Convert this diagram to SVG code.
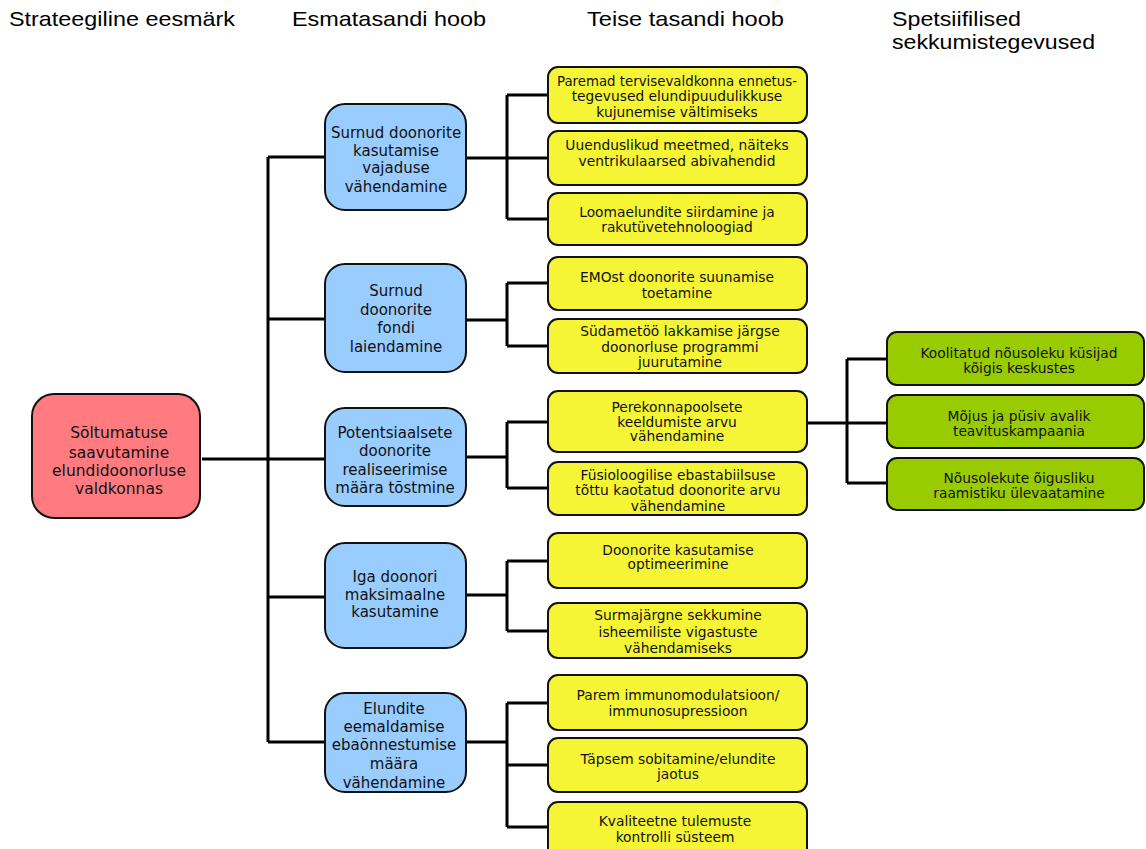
<svg xmlns="http://www.w3.org/2000/svg" width="1146" height="849" viewBox="0 0 1146 849">
  <style>
    .hdr { font-family: "Liberation Sans", Arial, sans-serif; font-size: 21px; fill: #000; }
    .box { stroke: #111; stroke-width: 2; }
    .goal { fill: #ff7b80; }
    .lvl1 { fill: #99ccff; }
    .lvl2 { fill: #f5f536; }
    .act { fill: #99cc00; }
    .tg { font-family: "DejaVu Sans", Verdana, sans-serif; font-size: 15.5px; fill: #111; text-anchor: middle; }
    .t1 { font-family: "DejaVu Sans", Verdana, sans-serif; font-size: 15px; fill: #111; text-anchor: middle; }
    .t2 { font-family: "DejaVu Sans", Verdana, sans-serif; font-size: 13.8px; fill: #111; text-anchor: middle; }
    .wire { fill: none; stroke: #000; stroke-width: 3; }
  </style>

  <!-- column headings -->
  <g id="headings">
    <text class="hdr" x="9" y="26" textLength="226" lengthAdjust="spacingAndGlyphs">Strateegiline eesmärk</text>
    <text class="hdr" x="292" y="26" textLength="194" lengthAdjust="spacingAndGlyphs">Esmatasandi hoob</text>
    <text class="hdr" x="587" y="26" textLength="197" lengthAdjust="spacingAndGlyphs">Teise tasandi hoob</text>
    <text class="hdr" x="892" y="26" textLength="129" lengthAdjust="spacingAndGlyphs">Spetsiifilised</text>
    <text class="hdr" x="892" y="49" textLength="203" lengthAdjust="spacingAndGlyphs">sekkumistegevused</text>
  </g>

  <!-- connectors -->
  <g id="connectors" class="wire">
    <!-- goal to first-level levers -->
    <path d="M202 459 H325"/>
    <path d="M268 157 V742"/>
    <path d="M268 157 H325 M268 319 H325 M268 597 H325 M268 742 H325"/>
    <!-- first to second level -->
    <path d="M466 158 H507 M507 95 V219 M507 95 H548 M507 158 H548 M507 219 H548"/>
    <path d="M466 320 H507 M507 283 V346 M507 283 H548 M507 346 H548"/>
    <path d="M466 457 H507 M507 422 V488 M507 422 H548 M507 488 H548"/>
    <path d="M466 595 H507 M507 561 V631 M507 561 H548 M507 631 H548"/>
    <path d="M466 742 H507 M507 703 V827 M507 703 H548 M507 765 H548 M507 827 H548"/>
    <!-- second level to specific actions -->
    <path d="M807 423 H847 M847 359 V483 M847 359 H887 M847 423 H887 M847 483 H887"/>
  </g>

  <!-- strategic goal -->
  <g id="goal">
    <rect class="box goal" x="32" y="394" width="168" height="124" rx="22"/>
    <text class="tg" x="119" y="438">Sõltumatuse</text>
    <text class="tg" x="119" y="458">saavutamine</text>
    <text class="tg" x="119" y="476">elundidoonorluse</text>
    <text class="tg" x="119" y="494">valdkonnas</text>
  </g>

  <!-- first-level levers -->
  <g id="lever1">
    <rect class="box lvl1" x="325" y="104" width="141" height="106" rx="20"/>
    <text class="t1" x="396" y="138">Surnud doonorite</text>
    <text class="t1" x="396" y="156">kasutamise</text>
    <text class="t1" x="396" y="173">vajaduse</text>
    <text class="t1" x="396" y="192">vähendamine</text>
  </g>
  <g id="lever2">
    <rect class="box lvl1" x="325" y="264" width="141" height="108" rx="20"/>
    <text class="t1" x="396" y="296">Surnud</text>
    <text class="t1" x="396" y="315">doonorite</text>
    <text class="t1" x="396" y="333">fondi</text>
    <text class="t1" x="396" y="352">laiendamine</text>
  </g>
  <g id="lever3">
    <rect class="box lvl1" x="325" y="408" width="141" height="98" rx="20"/>
    <text class="t1" x="395" y="438">Potentsiaalsete</text>
    <text class="t1" x="395" y="456">doonorite</text>
    <text class="t1" x="395" y="475">realiseerimise</text>
    <text class="t1" x="395" y="493">määra tõstmine</text>
  </g>
  <g id="lever4">
    <rect class="box lvl1" x="325" y="543" width="141" height="105" rx="20"/>
    <text class="t1" x="395" y="582">Iga doonori</text>
    <text class="t1" x="395" y="600">maksimaalne</text>
    <text class="t1" x="395" y="617">kasutamine</text>
  </g>
  <g id="lever5">
    <rect class="box lvl1" x="325" y="693" width="141" height="99" rx="20"/>
    <text class="t1" x="394" y="714">Elundite</text>
    <text class="t1" x="394" y="732">eemaldamise</text>
    <text class="t1" x="394" y="750">ebaõnnestumise</text>
    <text class="t1" x="394" y="769">määra</text>
    <text class="t1" x="394" y="788">vähendamine</text>
  </g>

  <!-- second-level levers -->
  <g id="sub1">
    <rect class="box lvl2" x="548" y="67" width="259" height="56" rx="10"/>
    <text class="t2" x="677" y="86" textLength="240" lengthAdjust="spacingAndGlyphs">Paremad tervisevaldkonna ennetus-</text>
    <text class="t2" x="677" y="101">tegevused elundipuudulikkuse</text>
    <text class="t2" x="677" y="117">kujunemise vältimiseks</text>
  </g>
  <g id="sub2">
    <rect class="box lvl2" x="548" y="131" width="259" height="54" rx="10"/>
    <text class="t2" x="677" y="150">Uuenduslikud meetmed, näiteks</text>
    <text class="t2" x="677" y="166">ventrikulaarsed abivahendid</text>
  </g>
  <g id="sub3">
    <rect class="box lvl2" x="548" y="193" width="259" height="52" rx="10"/>
    <text class="t2" x="677" y="217">Loomaelundite siirdamine ja</text>
    <text class="t2" x="677" y="232">rakutüvetehnoloogiad</text>
  </g>
  <g id="sub4">
    <rect class="box lvl2" x="548" y="257" width="259" height="53" rx="10"/>
    <text class="t2" x="677" y="282">EMOst doonorite suunamise</text>
    <text class="t2" x="677" y="298">toetamine</text>
  </g>
  <g id="sub5">
    <rect class="box lvl2" x="548" y="319" width="259" height="54" rx="10"/>
    <text class="t2" x="680" y="336">Südametöö lakkamise järgse</text>
    <text class="t2" x="680" y="352">doonorluse programmi</text>
    <text class="t2" x="680" y="367">juurutamine</text>
  </g>
  <g id="sub6">
    <rect class="box lvl2" x="548" y="391" width="259" height="61" rx="10"/>
    <text class="t2" x="677" y="412">Perekonnapoolsete</text>
    <text class="t2" x="677" y="427">keeldumiste arvu</text>
    <text class="t2" x="677" y="441">vähendamine</text>
  </g>
  <g id="sub7">
    <rect class="box lvl2" x="548" y="462" width="259" height="53" rx="10"/>
    <text class="t2" x="678" y="480">Füsioloogilise ebastabiilsuse</text>
    <text class="t2" x="678" y="495">tõttu kaotatud doonorite arvu</text>
    <text class="t2" x="678" y="511">vähendamine</text>
  </g>
  <g id="sub8">
    <rect class="box lvl2" x="548" y="533" width="259" height="55" rx="10"/>
    <text class="t2" x="678" y="555">Doonorite kasutamise</text>
    <text class="t2" x="678" y="569">optimeerimine</text>
  </g>
  <g id="sub9">
    <rect class="box lvl2" x="548" y="603" width="259" height="55" rx="10"/>
    <text class="t2" x="678" y="620">Surmajärgne sekkumine</text>
    <text class="t2" x="678" y="637">isheemiliste vigastuste</text>
    <text class="t2" x="678" y="653">vähendamiseks</text>
  </g>
  <g id="sub10">
    <rect class="box lvl2" x="548" y="675" width="259" height="55" rx="10"/>
    <text class="t2" x="678" y="700">Parem immunomodulatsioon/</text>
    <text class="t2" x="678" y="716">immunosupressioon</text>
  </g>
  <g id="sub11">
    <rect class="box lvl2" x="548" y="738" width="259" height="54" rx="10"/>
    <text class="t2" x="678" y="764">Täpsem sobitamine/elundite</text>
    <text class="t2" x="678" y="779">jaotus</text>
  </g>
  <g id="sub12">
    <rect class="box lvl2" x="548" y="802" width="259" height="56" rx="10"/>
    <text class="t2" x="675" y="826">Kvaliteetne tulemuste</text>
    <text class="t2" x="675" y="842">kontrolli süsteem</text>
  </g>

  <!-- specific actions -->
  <g id="act1">
    <rect class="box act" x="887" y="332" width="257" height="53" rx="10"/>
    <text class="t2" x="1019" y="358">Koolitatud nõusoleku küsijad</text>
    <text class="t2" x="1019" y="373">kõigis keskustes</text>
  </g>
  <g id="act2">
    <rect class="box act" x="887" y="395" width="257" height="53" rx="10"/>
    <text class="t2" x="1019" y="421">Mõjus ja püsiv avalik</text>
    <text class="t2" x="1019" y="436">teavituskampaania</text>
  </g>
  <g id="act3">
    <rect class="box act" x="887" y="458" width="257" height="52" rx="10"/>
    <text class="t2" x="1019" y="483">Nõusolekute õigusliku</text>
    <text class="t2" x="1019" y="498">raamistiku ülevaatamine</text>
  </g>
</svg>
